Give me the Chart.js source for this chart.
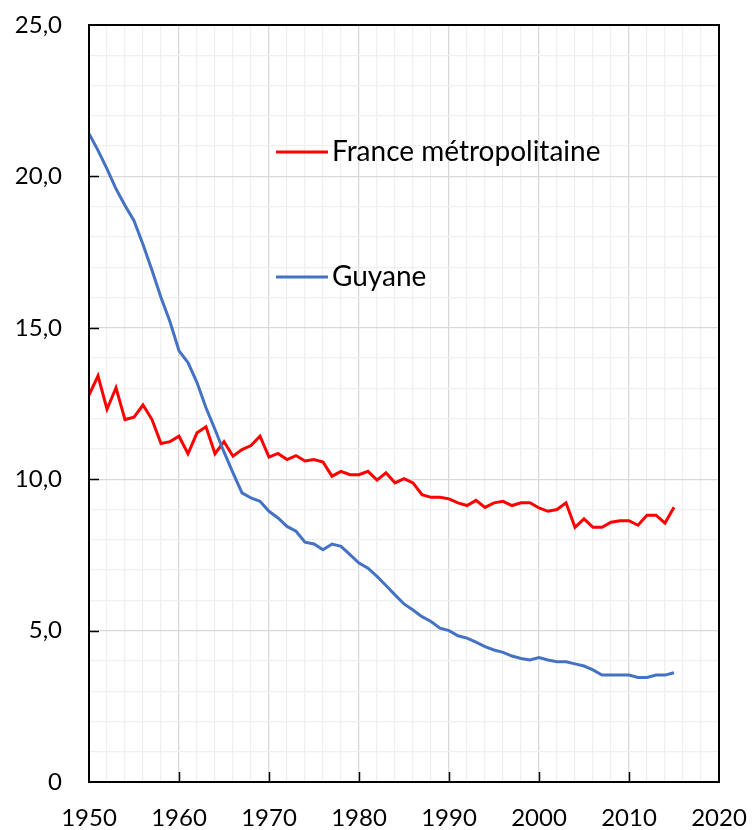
<!DOCTYPE html>
<html>
<head>
<meta charset="utf-8">
<script src="https://cdn.jsdelivr.net/npm/chart.js@4.4.1/dist/chart.umd.min.js"></script>
<style>
  html, body { margin: 0; padding: 0; background: #ffffff; }
  canvas { display: block; }
</style>
</head>
<body>
<canvas id="c" width="752" height="830"></canvas>
<script>
const years = [];
for (let y = 1950; y <= 2015; y++) years.push(y);

const seriesNames = ['France métropolitaine', 'Guyane'];

const franceValues = [
  12.78, 13.41, 12.31, 13.02, 11.97, 12.05, 12.45, 11.97, 11.18, 11.24,
  11.42, 10.84, 11.53, 11.73, 10.84, 11.24, 10.76, 10.98, 11.11, 11.42,
  10.73, 10.85, 10.65, 10.78, 10.60, 10.65, 10.57, 10.10, 10.26, 10.15,
  10.15, 10.26, 9.97, 10.21, 9.88, 10.02, 9.88, 9.49, 9.40, 9.40,
  9.35, 9.22, 9.13, 9.30, 9.07, 9.22, 9.27, 9.13, 9.22, 9.22,
  9.05, 8.94, 9.00, 9.22, 8.41, 8.69, 8.41, 8.41, 8.58, 8.63,
  8.63, 8.48, 8.81, 8.81, 8.55, 9.07
];

const guyaneValues = [
  21.41, 20.86, 20.25, 19.59, 19.04, 18.54, 17.75, 16.90, 16.00, 15.20,
  14.24, 13.85, 13.19, 12.36, 11.64, 10.90, 10.21, 9.55, 9.38, 9.27,
  8.94, 8.72, 8.44, 8.28, 7.92, 7.86, 7.67, 7.86, 7.78, 7.51,
  7.23, 7.06, 6.79, 6.49, 6.18, 5.88, 5.68, 5.46, 5.30, 5.08,
  5.00, 4.83, 4.75, 4.62, 4.47, 4.36, 4.28, 4.16, 4.08, 4.03,
  4.11, 4.03, 3.97, 3.97, 3.90, 3.83, 3.70, 3.53, 3.53, 3.53,
  3.53, 3.45, 3.45, 3.53, 3.53, 3.61
];

const xTickLabels = ['1950', '1960', '1970', '1980', '1990', '2000', '2010', '2020'];
const yTickLabels = ['0', '5,0', '10,0', '15,0', '20,0', '25,0'];

const FONT = "Lato, Carlito, 'Open Sans', sans-serif";

const toPoints = vals => vals.map((v, i) => ({ x: years[i], y: v }));

const framePlugin = {
  id: 'frame',
  afterDatasetsDraw(chart) {
    const { ctx, chartArea: a, scales } = chart;
    ctx.save();
    ctx.strokeStyle = '#000000';
    ctx.lineWidth = 2;
    ctx.strokeRect(a.left, a.top, a.right - a.left, a.bottom - a.top);
    ctx.beginPath();
    for (let v = 5; v < 25; v += 5) {
      const py = Math.round(scales.y.getPixelForValue(v)) + 0.5;
      ctx.moveTo(a.left, py);
      ctx.lineTo(a.left + 10, py);
    }
    for (let v = 1960; v < 2020; v += 10) {
      const px = Math.round(scales.x.getPixelForValue(v)) + 0.5;
      ctx.moveTo(px, a.bottom);
      ctx.lineTo(px, a.bottom - 10);
    }
    ctx.lineWidth = 1.5;
    ctx.stroke();
    ctx.restore();
  }
};

const legendPlugin = {
  id: 'inlineLegend',
  afterDraw(chart) {
    const { ctx } = chart;
    const rows = [152, 277];
    ctx.save();
    chart.data.datasets.forEach((ds, i) => {
      const y = rows[i];
      ctx.strokeStyle = ds.borderColor;
      ctx.lineWidth = 3;
      ctx.beginPath();
      ctx.moveTo(276, y);
      ctx.lineTo(328, y);
      ctx.stroke();
      ctx.fillStyle = '#000000';
      ctx.font = '28px ' + FONT;
      ctx.textAlign = 'left';
      ctx.textBaseline = 'middle';
      ctx.fillText(ds.label, 332, y);
    });
    ctx.restore();
  }
};

new Chart(document.getElementById('c'), {
  type: 'line',
  plugins: [framePlugin, legendPlugin],
  data: {
    datasets: [
      {
        label: seriesNames[0],
        data: toPoints(franceValues),
        borderColor: '#ff0000',
        borderWidth: 3,
        pointRadius: 0,
        tension: 0,
        fill: false,
        order: 1
      },
      {
        label: seriesNames[1],
        data: toPoints(guyaneValues),
        borderColor: '#4472c4',
        borderWidth: 3,
        pointRadius: 0,
        tension: 0,
        fill: false,
        order: 0
      }
    ]
  },
  options: {
    responsive: false,
    devicePixelRatio: 1,
    animation: false,
    layout: { padding: { top: 25, right: 33, left: 0, bottom: 0 } },
    plugins: {
      legend: { display: false },
      tooltip: { enabled: false }
    },
    scales: {
      x: {
        type: 'linear',
        min: 1950,
        max: 2020,
        afterFit: s => {
          s.height = 48;
          s.paddingLeft = 0; s.paddingRight = 0; s.paddingTop = 0; s.paddingBottom = 0;
        },
        border: { display: false },
        grid: {
          drawTicks: false,
          lineWidth: 1.3,
          color: c => (c.tick && c.tick.value % 10 === 0) ? '#d9d9d9' : '#f0f0f0'
        },
        ticks: {
          stepSize: 2,
          autoSkip: false,
          maxRotation: 0,
          padding: 22,
          color: '#000000',
          font: { family: FONT, size: 24 },
          callback: v => (v % 10 === 0) ? xTickLabels[(v - 1950) / 10] : ''
        }
      },
      y: {
        min: 0,
        max: 25,
        afterFit: s => {
          s.width = 89;
          s.paddingLeft = 0; s.paddingRight = 0; s.paddingTop = 0; s.paddingBottom = 0;
        },
        border: { display: false },
        grid: {
          drawTicks: false,
          lineWidth: 1.3,
          color: c => (c.tick && c.tick.value % 5 === 0) ? '#d9d9d9' : '#f0f0f0'
        },
        ticks: {
          stepSize: 1,
          autoSkip: false,
          padding: 27,
          color: '#000000',
          font: { family: FONT, size: 24 },
          callback: v => (v % 5 === 0) ? yTickLabels[v / 5] : ''
        }
      }
    }
  }
});
</script>
</body>
</html>
